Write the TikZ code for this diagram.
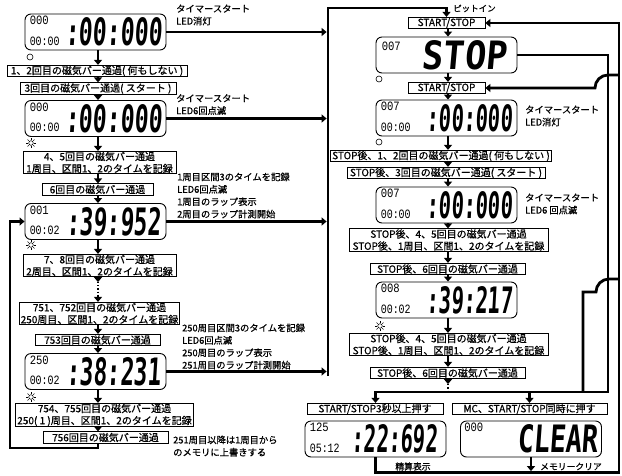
\documentclass[tikz,border=0pt]{standalone}
\usepackage{fontspec}
\usepackage{graphicx}
\usetikzlibrary{arrows.meta,calc}
\setmainfont{Noto Sans CJK JP}[FakeBold=0.7]
\newfontfamily\lcdsmallfont{Liberation Mono}
\newfontfamily\lcdbigfont[FakeSlant=0.1]{DejaVu Sans Mono}
\newcommand\mybxf{\fontsize{10}{12}\selectfont}
\newcommand\mylbf{\fontsize{9.3}{12.4}\selectfont}
\newcommand\lcdfill[7]{%
  \node[sm] (#1t) at ($(#1.north west)+(5,7)$) {\resizebox{19pt}{8.5pt}{\lcdsmallfont #2}};
  \node[sm] (#1b) at ($(#1.north west)+(5,27.5)$) {\resizebox{30pt}{8.5pt}{\lcdsmallfont #3}};
  \node[bigt] (#1g) at ($(#1.west)+(#5,0)$) {\resizebox{#6pt}{#7pt}{\lcdbigfont\bfseries #4}};
}
\begin{document}
\begin{tikzpicture}[x=1pt,y=-1pt,
  lcd/.style={draw,line width=0.9pt,rounded corners=6pt,minimum width=141pt,minimum height=36pt,inner sep=0pt},
  sm/.style={anchor=west,inner sep=0pt},
  bigt/.style={inner sep=0pt},
  box/.style={draw,line width=0.7pt,inner xsep=1.5pt,inner ysep=0.6pt,align=center,font=\mybxf,minimum height=11.5pt},
  lab/.style={anchor=north west,inner sep=0pt,align=left,font=\mylbf},
  conn/.style={line width=2.8pt},
  arr/.style={line width=2.8pt,-{Triangle[length=5pt,width=8pt]}},
  dots/.style={line width=1.2pt,dotted},
  ring/.style={circle,draw,line width=0.6pt,minimum size=6pt,inner sep=0pt},
  sunsym/.pic={\draw[line width=0.55pt] (0,0) circle (2.3);
    \foreach \a in {0,45,...,315} \draw[line width=0.55pt] (\a:3.3) -- (\a:4.9);}]
\useasboundingbox (0,0) rectangle (622,475);

% ---------- left column ----------
\node[lcd] (D1) at (95.5,32) {};
\lcdfill{D1}{000}{00:00}{:00:000}{89}{97}{28}
\node[ring] (o1) at (30,57) {};
\node[box,minimum width=180pt] (B1) at (97,71) {1、2回目の磁気バー通過( 何もしない )};
\node[box,minimum width=156pt] (B2) at (98,88.5) {3回目の磁気バー通過( スタート )};
\node[lcd] (D2) at (95.5,118.5) {};
\lcdfill{D2}{000}{00:00}{:00:000}{89}{97}{28}
\pic (s1) at (31,143) {sunsym};
\node[box,minimum width=153pt] (B3) at (99.5,162.5) {4、5回目の磁気バー通過\\1周目、区間1、2のタイムを記録};
\node[box,minimum width=111pt] (B4) at (97.5,189.5) {6回目の磁気バー通過};
\node[lcd] (D3) at (95.5,221.5) {};
\lcdfill{D3}{001}{00:02}{:39:952}{89}{95}{28}
\pic (s2) at (31,245) {sunsym};
\node[box,minimum width=153pt] (B5) at (99.5,265.5) {7、8回目の磁気バー通過\\2周目、区間1、2のタイムを記録};
\node[box,minimum width=153pt] (B6) at (99.5,313.5) {751、752回目の磁気バー通過\\250周目、区間1、2のタイムを記録};
\node[box,minimum width=125pt] (B7) at (97.5,340) {753回目の磁気バー通過};
\node[lcd] (D4) at (95.5,371.5) {};
\lcdfill{D4}{250}{00:02}{:38:231}{89}{95}{28}
\pic (s3) at (31,397) {sunsym};
\node[box,minimum width=177pt] (B8) at (104.5,415) {754、755回目の磁気バー通過\\250( 1 )周目、区間1、2のタイムを記録};
\node[box,minimum width=125pt] (B9) at (105.5,437.5) {756回目の磁気バー通過};

\node[lab] (L1) at (176,4.4) {タイマースタート\\LED消灯};
\node[lab] (L2) at (176,94) {タイマースタート\\LED6回点滅};
\node[lab] (L3) at (177,172.4) {1周目区間3のタイムを記録\\LED6回点滅\\1周目のラップ表示\\2周目のラップ計測開始};
\node[lab] (L4) at (182,323.4) {250周目区間3のタイムを記録\\LED6回点滅\\250周目のラップ表示\\251周目のラップ計測開始};
\node[lab] (L5) at (173,435.4) {251周目以降は1周目から\\のメモリに上書きする};

% ---------- right column ----------
\node[box,minimum width=77pt] (SS1) at (446.5,23) {START/STOP};
\node[lcd] (DS) at (446.5,55) {};
\node[sm] (DSt) at ($(DS.north west)+(6,10)$) {\resizebox{19pt}{8.5pt}{\lcdsmallfont 007}};
\node[bigt] (DSg) at ($(DS.west)+(88.5,0)$) {\resizebox{85pt}{29pt}{\lcdbigfont\bfseries STOP}};
\node[ring] (o2) at (379,79) {};
\node[box,minimum width=77pt] (SS2) at (446.5,88) {START/STOP};
\node[lcd] (D5) at (446.5,118) {};
\lcdfill{D5}{007}{00:00}{:00:000}{94}{86}{27}
\node[ring] (o3) at (379,142) {};
\node[box,minimum width=214pt] (R1) at (441,156) {STOP後、1、2回目の磁気バー通過( 何もしない )};
\node[box,minimum width=198pt] (R2) at (446,173) {STOP後、3回目の磁気バー通過( スタート )};
\node[lcd] (D6) at (446.5,205) {};
\lcdfill{D6}{007}{00:00}{:00:000}{94}{86}{27}
\node[box,minimum width=199pt] (R3) at (448.5,240) {STOP後、4、5回目の磁気バー通過\\STOP後、1周目、区間1、2のタイムを記録};
\node[box,minimum width=155pt] (R4) at (447.5,269) {STOP後、6回目の磁気バー通過};
\node[lcd] (D7) at (446.5,300) {};
\lcdfill{D7}{008}{00:02}{:39:217}{94}{86}{27}
\pic (s4) at (380,326) {sunsym};
\node[box,minimum width=199pt] (R5) at (448.5,344.5) {STOP後、4、5回目の磁気バー通過\\STOP後、1周目、区間1、2のタイムを記録};
\node[box,minimum width=155pt] (R6) at (447.5,373) {STOP後、6回目の磁気バー通過};
\node[box,minimum width=136pt] (SS3) at (375,409) {START/STOP3秒以上押す};
\node[box,minimum width=155pt] (MC) at (529.5,409) {MC、START/STOP同時に押す};
\node[lcd] (D8) at (375.5,439) {};
\lcdfill{D8}{125}{05:12}{:22:692}{90}{86}{28}
\node[lcd] (D9) at (531,439) {};
\node[sm] (D9t) at ($(D9.north west)+(4,7)$) {\resizebox{19pt}{8.5pt}{\lcdsmallfont 000}};
\node[bigt] (D9g) at ($(D9.west)+(97.5,0)$) {\resizebox{81pt}{28pt}{\lcdbigfont\bfseries CLEAR}};

\node[lab,font=\fontsize{8.5}{10}\selectfont] (pit) at (453,4.5) {ピットイン};
\node[lab] (RL1) at (525,105.4) {タイマースタート\\LED消灯};
\node[lab] (RL2) at (525,193.4) {タイマースタート\\LED6 回点滅};
\node[font=\fontsize{8.8}{9}\selectfont,inner sep=0pt] (seisan) at (413,466.5) {精算表示};
\node[font=\fontsize{8.8}{9}\selectfont,inner sep=0pt,anchor=west] (memc) at (540,466.5) {メモリークリア};

% ---------- coordinates ----------
\coordinate (colL) at (98,0);
\coordinate (colR) at (448,0);
\coordinate (barT) at (328,8);
\coordinate (barB) at (328,376);
\coordinate (loopBL) at (10,448);
\coordinate (busL) at (375.5,392);
\coordinate (busR) at (608,392);
\coordinate (j583) at (583,392);
\coordinate (k583) at (583,292);
\coordinate (outBR) at (619,472.5);
\coordinate (hopA) at (619,75);
\coordinate (hopB) at (619,279);

% ---------- column arrows ----------
\foreach \a/\b in {D1/B1,B1/B2,B2/D2,D2/B3,B3/B4,B4/D3,D3/B5,B6/B7,B7/D4,D4/B8,B8/B9}
  \draw[arr] (colL |- \a.south) -- (colL |- \b.north);
\foreach \a/\b in {SS1/DS,DS/SS2,SS2/D5,D5/R1,R1/R2,R2/D6,D6/R3,R3/R4,R4/D7,D7/R5,R5/R6}
  \draw[arr] (colR |- \a.south) -- (colR |- \b.north);

\draw[arr] (colL |- B5.south) -- ($(colL |- B5.south)+(0,5)$);
\draw[dots] ($(colL |- B5.south)+(0,5)$) -- ($(colL |- B6.north)+(0,-7)$);
\draw[arr] ($(colL |- B6.north)+(0,-7)$) -- (colL |- B6.north);

\draw[arr] (colR |- R6.south) -- ($(colR |- R6.south)+(0,5)$);
\draw[dots] ($(colR |- R6.south)+(0,5)$) -- (colR |- busL);

% ---------- left bar ----------
\draw[arr] (barB) -- (barT) -- (barT -| SS1.north) -- (SS1.north);
\foreach \d in {D1,D2,D3,D4}
  \draw[arr,shorten >=1.4pt] (\d.east) -- (\d.east -| barT);

% ---------- left loop ----------
\draw[arr] (colL |- B9.south) -- (colL |- loopBL) -- (loopBL) -- (loopBL |- D3.west) -- (D3.west);

% ---------- right side ----------
\draw[arr] (DS.east) -| (busR) -- (busL) -- (busL |- SS3.north);
\draw[arr] (MC.north |- busL) -- (MC.north);
\draw[conn] (j583) -- (k583) -- (596,292) .. controls (596,284.8) and (601.8,279) .. (609,279) -- (hopB);
\draw[arr] (hopA) -- (608,75) .. controls (600.8,75) and (595,80.8) .. (595,88) -- (SS2.east);
\draw[arr] (D8.south) -- (D8.south |- outBR) -- (outBR) -- (outBR |- SS1.east) -- (SS1.east);
\draw[arr,shorten >=1.4pt] (D9.south) -- (D9.south |- outBR);
\end{tikzpicture}
\end{document}
